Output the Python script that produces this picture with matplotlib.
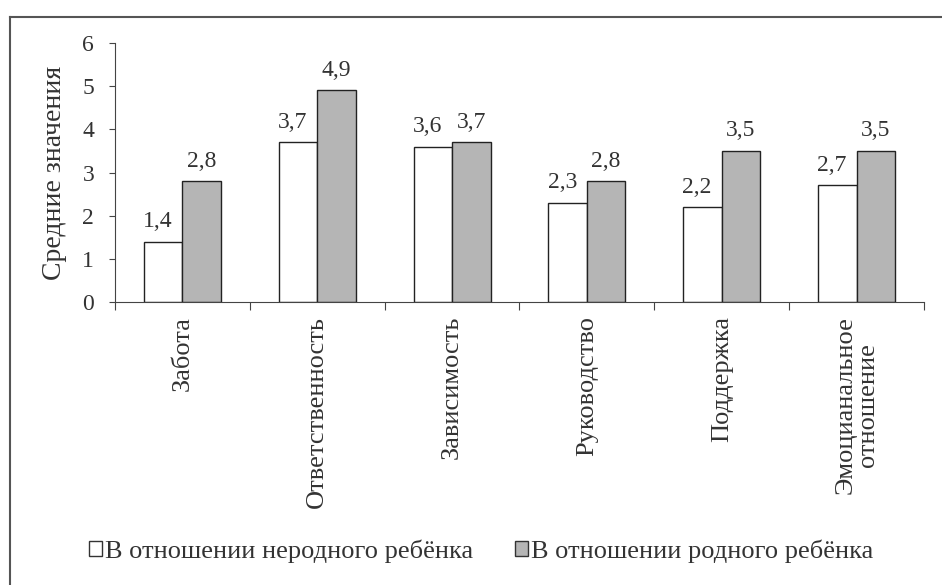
import matplotlib
matplotlib.use("Agg")
import matplotlib.pyplot as plt
import numpy as np
from matplotlib.lines import Line2D

categories = ["Забота", "Ответственность", "Зависимость", "Руководство",
              "Поддержка", "Эмоцианальное\nотношение"]
series_names = ["В отношении неродного ребёнка", "В отношении родного ребёнка"]
foster = [1.4, 3.7, 3.6, 2.3, 2.2, 2.7]
own = [2.8, 4.9, 3.7, 2.8, 3.5, 3.5]
foster_labels = ["1,4", "3,7", "3,6", "2,3", "2,2", "2,7"]
own_labels = ["2,8", "4,9", "3,7", "2,8", "3,5", "3,5"]
yticks = [0, 1, 2, 3, 4, 5, 6]

plt.rcParams['font.family'] = ['Liberation Serif', 'DejaVu Serif']

fig = plt.figure(figsize=(9.42, 5.85), dpi=100)
ax = fig.add_axes([115/942, 1-302/585, (924-115)/942, (302-43)/585])

x = np.arange(len(categories))
w = 0.285
b1 = ax.bar(x - w/2, foster, w, color='white', edgecolor='#222222', linewidth=1.0,
            label=series_names[0])
b2 = ax.bar(x + w/2, own, w, color='#b5b5b5', edgecolor='#222222', linewidth=1.0,
            label=series_names[1])
for rect, lab in zip(b1, foster_labels):
    ax.text(rect.get_x() + rect.get_width()/2 - 0.04, rect.get_height() + 0.22, lab,
            ha='center', va='bottom', fontsize=17, color='#333333')
for rect, lab in zip(b2, own_labels):
    ax.text(rect.get_x() + rect.get_width()/2, rect.get_height() + 0.22, lab,
            ha='center', va='bottom', fontsize=17, color='#333333')

ax.set_xlim(-0.5, len(categories) - 0.5)
ax.set_ylim(0, 6)
ax.set_yticks(yticks)
ax.set_yticklabels([str(t) for t in yticks], fontsize=17, color='#333333')
ax.set_xticks(np.arange(len(categories) + 1) - 0.5)
ax.set_xticklabels([])
ax.set_xticks(x, minor=True)
ax.set_xticklabels(categories, minor=True, rotation=90, fontsize=19, color='#333333',
                   va='top', ha='center', multialignment='center', linespacing=1.0)
ax.tick_params(axis='x', which='minor', length=0, pad=10)
ax.tick_params(axis='x', which='major', length=6, direction='out', color='#444444')
ax.tick_params(axis='y', length=4, direction='out', color='#444444', pad=11)
for s in ['top', 'right']:
    ax.spines[s].set_visible(False)
for s in ['left', 'bottom']:
    ax.spines[s].set_color('#444444')
ax.set_ylabel("Средние значения", fontsize=20, color='#333333', labelpad=11)

handles = [plt.Rectangle((0, 0), 1, 1, facecolor='white', edgecolor='#333333'),
           plt.Rectangle((0, 0), 1, 1, facecolor='#b5b5b5', edgecolor='#333333')]
fig.legend(handles, series_names, loc='center', bbox_to_anchor=(481/942, 1-551/585),
           ncol=2, frameon=False, fontsize=19, handlelength=0.5, handleheight=0.5,
           handletextpad=0.1, columnspacing=1.6, labelcolor='#333333')

fig.add_artist(Line2D([10/942, 1], [1-17/585, 1-17/585], transform=fig.transFigure,
                      color='#555555', linewidth=1.5))
fig.add_artist(Line2D([10/942, 10/942], [0, 1-17/585], transform=fig.transFigure,
                      color='#555555', linewidth=1.5))

fig.savefig("out.png", dpi=100)
